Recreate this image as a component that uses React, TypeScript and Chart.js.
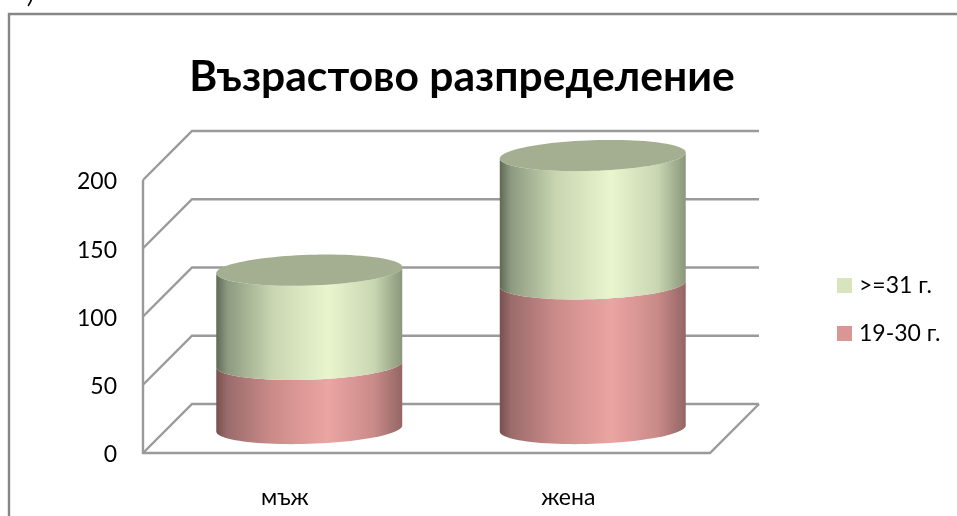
import React, { useEffect, useRef } from "react";
import { Chart, registerables } from "chart.js";

Chart.register(...registerables);

const categories = ["мъж", "жена"];
const youngerLabel = "19-30 г.";
const olderLabel = ">=31 г.";
const youngerValues = [47, 106];
const olderValues = [69, 94];
const yTicks = [0, 50, 100, 150, 200];
const chartTitle = "Възрастово разпределение";

const FONT = "Lato, 'Open Sans', 'Noto Sans', sans-serif";
const DEPTH = 49;
const LINE = "#9a9a9a";

type Shade = { stops: [number, string][]; cap: string };
const shades: Shade[] = [
  {
    stops: [
      [0, "#77504f"],
      [0.06, "#9a6c6b"],
      [0.3, "#cb8b89"],
      [0.6, "#eba5a3"],
      [0.85, "#c98a88"],
      [1, "#946665"],
    ],
    cap: "#a88",
  },
  {
    stops: [
      [0, "#5f6a56"],
      [0.06, "#8d9a80"],
      [0.3, "#c8d5b0"],
      [0.6, "#e8f5cd"],
      [0.85, "#c9d6b2"],
      [1, "#8a9779"],
    ],
    cap: "#a4ae90",
  },
];

// Oblique outline of a disc: wide axis slightly tilted, short axis foreshortened.
function discPoint(cx: number, cy: number, a: number, t: number): [number, number] {
  return [cx + a * Math.cos(t), cy - a * 0.032 * Math.cos(t) - a * 0.165 * Math.sin(t)];
}

function traceFront(ctx: CanvasRenderingContext2D, cx: number, cy: number, a: number, reverse: boolean) {
  const n = 48;
  for (let i = 0; i <= n; i++) {
    const k = reverse ? n - i : i;
    const t = Math.PI + (Math.PI * k) / n;
    const [x, y] = discPoint(cx, cy, a, t);
    ctx.lineTo(x, y);
  }
}

function drawCylinder(ctx: CanvasRenderingContext2D, bar: any, shade: Shade, withCap: boolean) {
  const cx = bar.x + DEPTH / 2;
  const a = bar.width / 2;
  const bottom = bar.base - DEPTH / 2;
  const top = bar.y - DEPTH / 2;

  const grad = ctx.createLinearGradient(cx - a, 0, cx + a, 0);
  shade.stops.forEach(([p, c]) => grad.addColorStop(p, c));

  ctx.beginPath();
  traceFront(ctx, cx, bottom, a, false);
  traceFront(ctx, cx, top, a, true);
  ctx.closePath();
  ctx.fillStyle = grad;
  ctx.fill();

  if (withCap) {
    ctx.beginPath();
    for (let i = 0; i <= 96; i++) {
      const [x, y] = discPoint(cx, top, a, (2 * Math.PI * i) / 96);
      ctx.lineTo(x, y);
    }
    ctx.closePath();
    ctx.fillStyle = shade.cap;
    ctx.fill();
  }
}

const stage3d = {
  id: "stage3d",
  beforeDatasetsDraw(chart: any) {
    const { ctx, chartArea, scales } = chart;
    const { left, right, bottom } = chartArea;
    ctx.save();
    ctx.strokeStyle = LINE;
    ctx.lineWidth = 2.4;
    ctx.lineJoin = "miter";

    // Side wall and back wall rules, one per value tick
    yTicks.forEach((v) => {
      const y = scales.y.getPixelForValue(v);
      ctx.beginPath();
      ctx.moveTo(left, y);
      ctx.lineTo(left + DEPTH, y - DEPTH);
      ctx.lineTo(right + DEPTH, y - DEPTH);
      ctx.stroke();
    });

    // Vertical wall edge and floor outline
    ctx.beginPath();
    ctx.moveTo(left, scales.y.getPixelForValue(yTicks[yTicks.length - 1]));
    ctx.lineTo(left, bottom);
    ctx.lineTo(right, bottom);
    ctx.lineTo(right + DEPTH, bottom - DEPTH);
    ctx.stroke();

    // Stacks, lowest series first
    categories.forEach((_, i) => {
      chart.data.datasets.forEach((_d: any, di: number) => {
        const bar = chart.getDatasetMeta(di).data[i];
        drawCylinder(ctx, bar, shades[di], di === chart.data.datasets.length - 1);
      });
    });
    ctx.restore();
    return false;
  },
  afterLayout(chart: any) {
    // Title is centred over the plot and its walls rather than the full canvas
    chart.titleBlock.left = 9;
    chart.titleBlock.right = 915;
  },
  beforeDraw(chart: any) {
    const { ctx } = chart;
    ctx.save();
    ctx.strokeStyle = "#868686";
    ctx.lineWidth = 2.4;
    ctx.beginPath();
    ctx.moveTo(9, 520);
    ctx.lineTo(9, 14);
    ctx.lineTo(960, 14);
    ctx.stroke();
    ctx.fillStyle = "#000";
    ctx.font = `italic 24px ${FONT}`;
    ctx.textBaseline = "alphabetic";
    ctx.fillText(")", 28, 3);
    ctx.restore();
  },
  afterDraw(chart: any) {
    // Legend column beside the plot, top series first
    const { ctx } = chart;
    ctx.save();
    ctx.font = `23px ${FONT}`;
    ctx.textBaseline = "middle";
    [...chart.data.datasets].reverse().forEach((d: any, i: number) => {
      const y = 285.5 + i * 48;
      ctx.fillStyle = d.backgroundColor;
      ctx.fillRect(837, y - 7.5, 15, 15);
      ctx.fillStyle = "#000";
      ctx.fillText(d.label, 859, y);
    });
    ctx.restore();
  },
};

export default function App() {
  const ref = useRef<HTMLCanvasElement>(null);

  useEffect(() => {
    if (!ref.current) return;
    const chart = new Chart(ref.current, {
      type: "bar",
      data: {
        labels: categories,
        datasets: [
          { label: youngerLabel, data: youngerValues, backgroundColor: "#d99694", categoryPercentage: 1, barPercentage: 0.656 },
          { label: olderLabel, data: olderValues, backgroundColor: "#d7e4bd", categoryPercentage: 1, barPercentage: 0.656 },
        ],
      },
      plugins: [stage3d],
      options: {
        animation: false,
        responsive: false,
        layout: { padding: { left: 0, right: 247, top: 0, bottom: 0 } },
        plugins: {
          title: {
            display: true,
            text: chartTitle,
            color: "#000",
            font: { family: FONT, size: 42.6, weight: "bold", lineHeight: 1.2 },
            padding: { top: 52, bottom: 76.9 },
          },
          legend: { display: false },
          tooltip: { enabled: false },
        },
        scales: {
          x: {
            stacked: true,
            grid: { display: false },
            border: { display: false },
            ticks: { color: "#000", font: { family: FONT, size: 23 }, padding: 23 },
            afterFit(scale: any) {
              scale.height = 63;
            },
          },
          y: {
            stacked: true,
            min: 0,
            max: 200,
            grid: { display: false, drawTicks: false },
            border: { display: false },
            afterBuildTicks(scale: any) {
              scale.ticks = yTicks.map((value) => ({ value }));
            },
            ticks: { color: "#000", font: { family: FONT, size: 23 }, padding: 26, labelOffset: 2 },
            afterFit(scale: any) {
              scale.width = 143;
            },
          },
        },
      },
    } as any);
    return () => chart.destroy();
  }, []);

  return (
    <div style={{ position: "fixed", left: 0, top: 0, width: 957, height: 516, background: "#fff" }}>
      <canvas ref={ref} width={957} height={516} style={{ display: "block", width: 957, height: 516 }} />
    </div>
  );
}
